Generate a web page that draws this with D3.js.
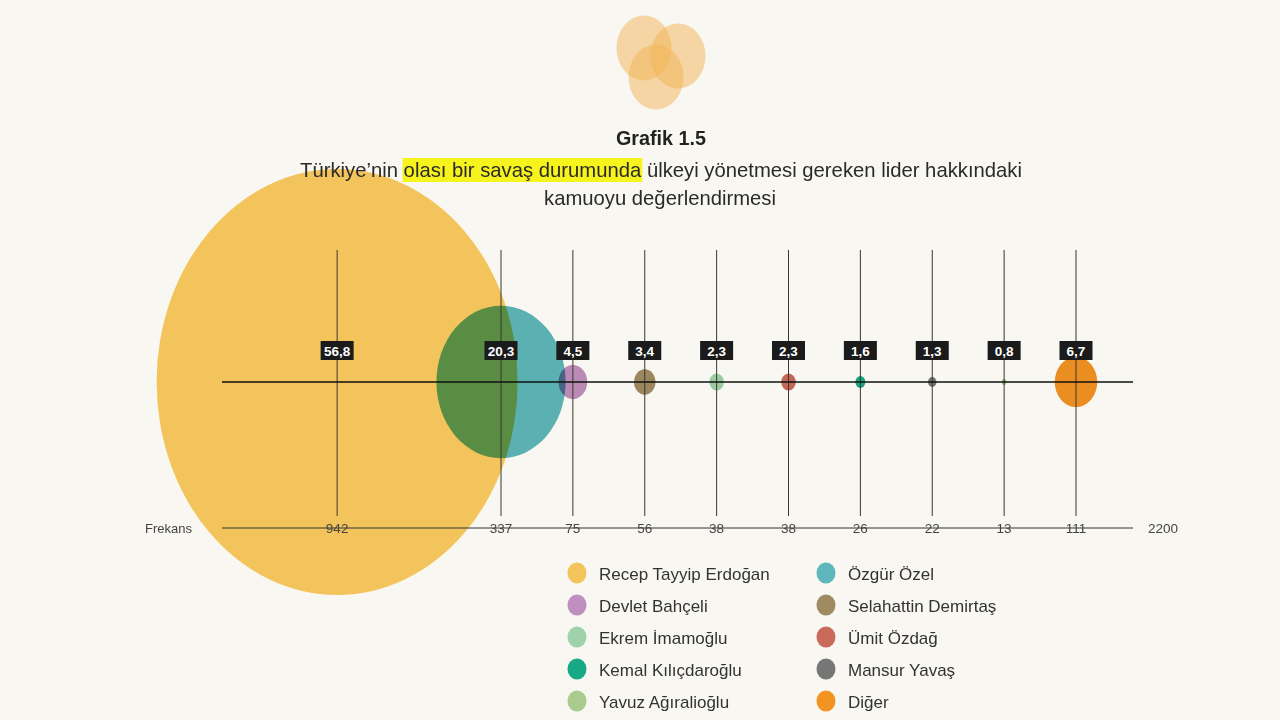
<!DOCTYPE html>
<html>
<head>
<meta charset="utf-8">
<script src="https://cdn.jsdelivr.net/npm/d3@7"></script>
<style>
  html, body { margin: 0; padding: 0; background: #f8f7f1; }
  svg { display: block; }
  text { font-family: "Liberation Sans", Arial, sans-serif; }
</style>
</head>
<body>
<svg id="chart" width="1280" height="720"></svg>
<script>
// ---- data ----
const categories = ["Recep Tayyip Erdoğan", "Özgür Özel", "Devlet Bahçeli", "Selahattin Demirtaş",
  "Ekrem İmamoğlu", "Ümit Özdağ", "Kemal Kılıçdaroğlu", "Mansur Yavaş", "Yavuz Ağıralioğlu", "Diğer"];
const percents = [56.8, 20.3, 4.5, 3.4, 2.3, 2.3, 1.6, 1.3, 0.8, 6.7];
const frequencies = [942, 337, 75, 56, 38, 38, 26, 22, 13, 111];
const colors = ["#f4c45c", "#5db7bb", "#bf8fc0", "#a08a62", "#9fd2aa", "#c96a5c", "#17a986", "#767676", "#a9cc8e", "#f29322"];
const totalLabel = "2200";
const freqLabel = "Frekans";
const titleText = "Grafik 1.5";
const subtitleParts = ["Türkiye’nin ", "olası bir savaş durumunda", " ülkeyi yönetmesi gereken lider hakkındaki"];
const subtitleLine2 = "kamuoyu değerlendirmesi";

const data = categories.map((c, i) => ({ name: c, pct: percents[i], freq: frequencies[i], color: colors[i], i }));

const svg = d3.select("#chart");
svg.append("rect").attr("width", 1280).attr("height", 720).attr("fill", "#f8f7f1");

// ---- logo ----
const logo = svg.append("g");
[[644, 48], [678, 56], [656, 77]].forEach(([cx, cy]) => {
  logo.append("ellipse").attr("cx", cx).attr("cy", cy).attr("rx", 27.5).attr("ry", 32.5)
    .attr("fill", "#f2b456").attr("opacity", 0.5);
});

// ---- scales ----
const rest = categories.slice(1);
const xRest = d3.scalePoint().domain(rest).range([501, 1076]);
const step = xRest.step();
const x = name => name === categories[0] ? xRest(rest[0]) - 2.28 * step : xRest(name);
const rx = d3.scaleLinear().domain([0, d3.max(frequencies)]).range([0, 180.5]);
const ry = d3.scaleLinear().domain([0, d3.max(frequencies)]).range([0, 213]);
const axisY = 382;

// ---- bubbles ----
const bubbles = svg.append("g");
bubbles.selectAll("ellipse").data(data).join("ellipse")
  .attr("cx", d => x(d.name)).attr("cy", axisY)
  .attr("rx", d => rx(d.freq)).attr("ry", d => ry(d.freq))
  .attr("fill", d => d.color)
  .style("mix-blend-mode", d => d.i === 0 ? "normal" : "multiply");

// ---- vertical lines ----
svg.append("g").selectAll("line").data(data).join("line")
  .attr("x1", d => x(d.name)).attr("x2", d => x(d.name))
  .attr("y1", 250).attr("y2", 516)
  .attr("stroke", "#3b3630").attr("stroke-width", 1);

// ---- horizontal axis ----
svg.append("line").attr("x1", 222).attr("x2", 1133).attr("y1", axisY).attr("y2", axisY)
  .attr("stroke", "#111").attr("stroke-width", 1.5);

// ---- percent labels ----
const lab = svg.append("g").selectAll("g").data(data).join("g")
  .attr("transform", d => `translate(${x(d.name)},350.5)`);
lab.append("rect").attr("x", -16.5).attr("y", -9.5).attr("width", 33).attr("height", 19).attr("fill", "#1b1b1b");
lab.append("text").attr("text-anchor", "middle").attr("y", 5)
  .attr("fill", "#fff").attr("font-weight", "bold").attr("font-size", 13.5)
  .text(d => d3.format(".1f")(d.pct).replace(".", ","));

// ---- frequency axis ----
svg.append("line").attr("x1", 222).attr("x2", 1133).attr("y1", 528).attr("y2", 528)
  .attr("stroke", "#333").attr("stroke-width", 1);
svg.append("g").selectAll("text").data(data).join("text")
  .attr("x", d => x(d.name)).attr("y", 533).attr("text-anchor", "middle")
  .attr("font-size", 13.5).attr("fill", "#444").text(d => d.freq);
svg.append("text").attr("x", 145).attr("y", 533).attr("font-size", 13).attr("fill", "#444")
  .attr("textLength", 47).attr("lengthAdjust", "spacingAndGlyphs").text(freqLabel);
svg.append("text").attr("x", 1148).attr("y", 533).attr("font-size", 13.5).attr("fill", "#444").text(totalLabel);

// ---- title ----
svg.append("text").attr("x", 661).attr("y", 145).attr("text-anchor", "middle")
  .attr("font-size", 20).attr("font-weight", "bold").attr("fill", "#222")
  .attr("textLength", 90).attr("lengthAdjust", "spacingAndGlyphs").text(titleText);

const hl = svg.append("rect").attr("fill", "#f7f31c");
const sub = svg.append("text").attr("x", 300).attr("y", 177)
  .attr("font-size", 21).attr("fill", "#2a2a2a")
  .attr("textLength", 722).attr("lengthAdjust", "spacingAndGlyphs");
subtitleParts.forEach(p => sub.append("tspan").text(p));
const node = sub.node();
const s = subtitleParts[0].length, e = s + subtitleParts[1].length - 1;
const x0 = node.getStartPositionOfChar(s).x, x1 = node.getEndPositionOfChar(e).x;
hl.attr("x", x0 - 1).attr("y", 158).attr("width", x1 - x0 + 2).attr("height", 24);

svg.append("text").attr("x", 660).attr("y", 205).attr("text-anchor", "middle")
  .attr("font-size", 21).attr("fill", "#2a2a2a")
  .attr("textLength", 232).attr("lengthAdjust", "spacingAndGlyphs").text(subtitleLine2);

// ---- legend ----
const leg = svg.append("g").selectAll("g").data(data).join("g")
  .attr("transform", d => `translate(${577 + (d.i % 2) * 249},${573 + Math.floor(d.i / 2) * 32})`);
leg.append("ellipse").attr("rx", 9.5).attr("ry", 10.5).attr("fill", d => d.color);
leg.append("text").attr("x", 22).attr("y", 6.5).attr("font-size", 17).attr("fill", "#333")
  .text(d => d.name);
</script>
</body>
</html>
